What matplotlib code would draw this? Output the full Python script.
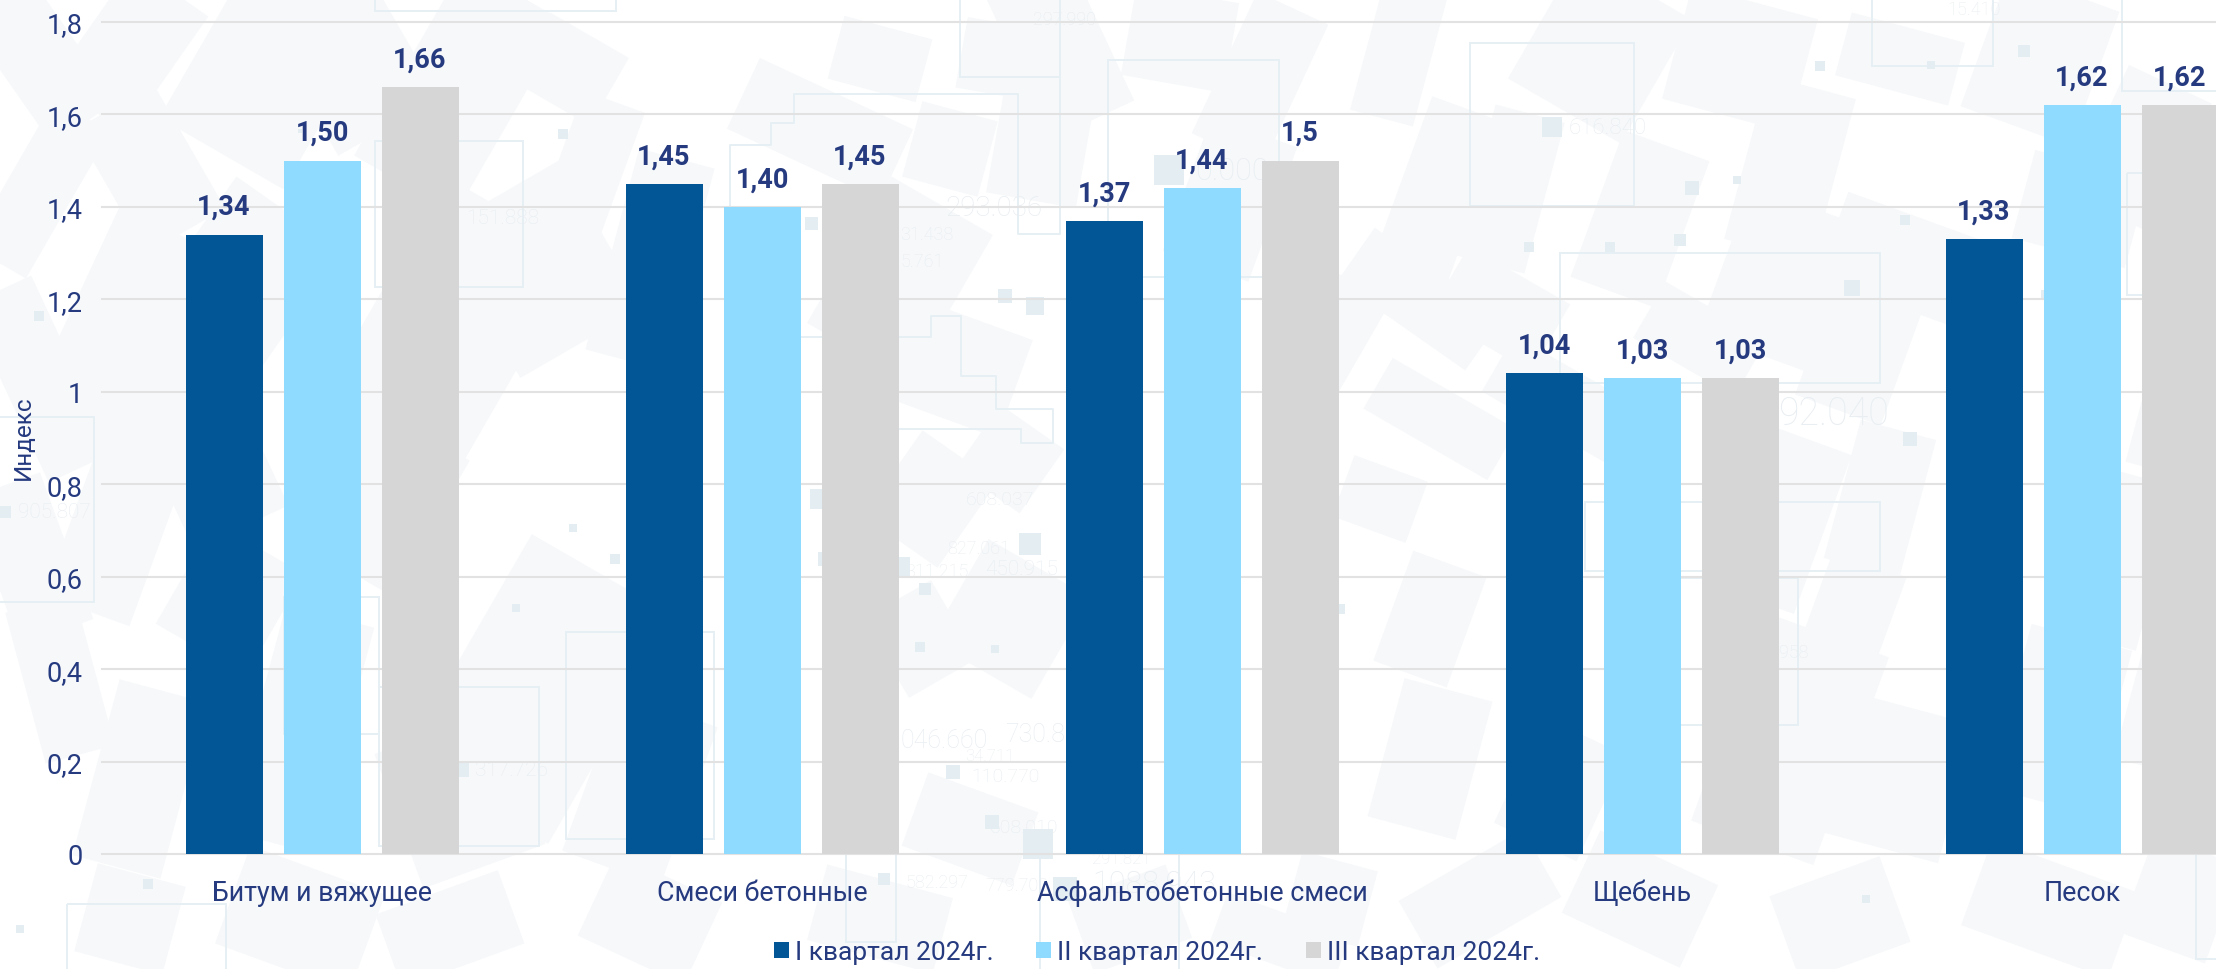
import matplotlib
matplotlib.use("Agg")
import matplotlib.pyplot as plt
from matplotlib.patches import Polygon, Rectangle, Patch
import numpy as np

categories = ["Битум и вяжущее", "Смеси бетонные", "Асфальтобетонные смеси", "Щебень", "Песок"]
series_names = ["I квартал 2024г.", "II квартал 2024г.", "III квартал 2024г."]
q1 = [1.34, 1.45, 1.37, 1.04, 1.33]
q2 = [1.50, 1.40, 1.44, 1.03, 1.62]
q3 = [1.66, 1.45, 1.50, 1.03, 1.62]
q1_labels = ["1,34", "1,45", "1,37", "1,04", "1,33"]
q2_labels = ["1,50", "1,40", "1,44", "1,03", "1,62"]
q3_labels = ["1,66", "1,45", "1,5", "1,03", "1,62"]
y_ticks = [0, 0.2, 0.4, 0.6, 0.8, 1.0, 1.2, 1.4, 1.6, 1.8]
y_tick_labels = ["0", "0,2", "0,4", "0,6", "0,8", "1", "1,2", "1,4", "1,6", "1,8"]
colors = ["#025696", "#8fdbff", "#d6d6d6"]
NAVY = "#253a7f"
FONT = "Roboto"

# decorative city-map backdrop, in image pixels: cx, cy, w, h, angle
map_blocks = [
    (40, 60, 60, 120, -35), (130, 50, 70, 110, 35), (40, 190, 50, 130, 30), (150, 170, 70, 110, -30),
    (270, 70, 110, 150, 30), (120, 330, 80, 170, 25), (40, 380, 55, 150, -25), (230, 300, 100, 160, 35),
    (350, 60, 90, 120, -30), (460, 90, 90, 170, 30), (540, 270, 110, 130, -30), (450, 330, 120, 200, 30),
    (590, 170, 50, 110, 20), (650, 260, 60, 160, 15), (570, 70, 70, 60, 30), (200, 440, 80, 150, -25),
    (120, 520, 70, 150, 20), (30, 560, 60, 120, -20), (380, 500, 90, 120, 30), (230, 600, 80, 90, 30),
    (540, 690, 130, 200, 30), (460, 800, 100, 110, -20), (640, 790, 80, 130, 20), (140, 780, 70, 140, 15),
    (60, 680, 55, 120, -15), (300, 730, 70, 180, 15), (820, 130, 130, 60, 25), (880, 60, 70, 50, 15),
    (1000, 60, 60, 55, 10), (1040, 150, 70, 80, 10), (950, 150, 60, 60, 15), (900, 280, 90, 130, 30),
    (960, 370, 90, 80, 20), (1010, 460, 60, 60, 35), (930, 500, 70, 80, 35), (1010, 620, 90, 90, 30),
    (920, 640, 60, 70, -30), (970, 830, 90, 60, 20), (880, 920, 100, 60, 15), (1130, 920, 80, 60, -20),
    (1060, 50, 70, 120, -25), (1180, 40, 80, 70, 10), (1260, 80, 60, 120, 25), (1230, 200, 70, 110, 20),
    (1400, 50, 50, 110, 15), (1440, 190, 60, 130, 20), (1510, 190, 55, 120, 15), (1600, 50, 100, 110, 30),
    (1740, 60, 100, 90, 15), (1790, 170, 70, 130, 15), (1900, 60, 90, 50, 15), (2040, 60, 90, 110, 20),
    (2140, 150, 70, 110, 25), (2080, 210, 90, 70, 15), (1640, 220, 70, 120, 20), (1780, 280, 90, 120, 20),
    (1900, 260, 110, 70, 20), (1420, 300, 120, 50, 35), (1500, 310, 90, 60, 30), (1330, 330, 60, 80, 30),
    (1440, 420, 110, 45, 30), (1380, 500, 60, 50, 20), (1560, 400, 110, 50, 30), (1700, 340, 90, 50, 30),
    (1860, 350, 70, 100, 20), (1880, 500, 60, 110, 15), (1430, 620, 60, 90, 20), (1780, 520, 70, 130, 20),
    (1850, 620, 60, 90, 20), (1430, 760, 70, 110, 15), (1790, 740, 100, 170, 20), (1560, 790, 70, 90, 25),
    (1900, 780, 90, 110, 15), (2060, 720, 80, 130, 15), (2120, 560, 60, 130, 15), (2180, 410, 60, 100, 15),
    (2170, 700, 60, 110, 15), (1330, 900, 60, 60, 15), (1480, 900, 110, 60, -30), (1640, 900, 100, 70, 25),
    (1840, 920, 90, 70, -20), (2050, 910, 120, 70, 20), (2180, 900, 70, 80, 20), (1280, 940, 100, 40, 20),
    (300, 920, 110, 80, 20), (450, 930, 100, 60, -20), (650, 920, 90, 70, 25), (130, 920, 70, 70, 15),
]
BLOCK_SCALE = 1.3
map_frames = [
    (375, 142, 148, 146), (375, -10, 241, 22), (1470, 44, 164, 163), (1872, -5, 121, 72), (1560, 254, 320, 130),
    (2122, -5, 110, 97), (2127, 174, 100, 122), (1108, 61, 171, 217), (960, -5, 100, 83), (-5, 418, 99, 185),
    (284, 598, 95, 137), (379, 688, 160, 159), (566, 633, 148, 207), (846, 855, 50, 88), (67, 905, 159, 80),
    (1585, 503, 295, 69), (1680, 579, 118, 147), (2196, 855, 30, 105), (1040, 855, 139, 130),
]
map_paths = [
    [(730, 207), (730, 146), (771, 146), (771, 124), (794, 124), (794, 95), (1018, 95), (1018, 235), (1060, 235), (1060, 78)],
    [(802, 338), (931, 338), (931, 317), (961, 317), (961, 377), (996, 377), (996, 410), (1053, 410), (1053, 444), (1021, 444), (1021, 430), (898, 430)],
]
map_dots = [
    (300, 132, 4), (563, 135, 10), (39, 317, 10), (1005, 297, 14), (1035, 307, 18), (811, 224, 13), (5, 513, 12),
    (1169, 171, 30), (1552, 128, 20), (1820, 67, 10), (1931, 66, 8), (2024, 52, 12), (1692, 189, 14), (1737, 181, 8),
    (1610, 248, 10), (1680, 241, 12), (1529, 248, 10), (1852, 289, 16), (1905, 221, 10), (2045, 295, 8), (1910, 440, 14),
    (573, 529, 8), (516, 609, 8), (462, 771, 14), (615, 560, 10), (820, 500, 20), (825, 560, 14), (900, 568, 20),
    (1030, 545, 22), (925, 590, 12), (953, 773, 14), (992, 823, 14), (1038, 845, 30), (1065, 890, 24), (884, 880, 12),
    (20, 930, 8), (148, 885, 10), (1866, 900, 8), (1340, 610, 10), (920, 648, 10), (995, 650, 8),
]
map_labels = [
    ("151.888", 466, 218, 15), ("293.036", 945, 208, 20), ("297.990", 1033, 20, 13), ("616.840", 1569, 128, 16),
    ("15.410", 1947, 10, 13), ("92.040", 1778, 414, 27), ("905.807", 18, 513, 15), ("317.726", 475, 771, 15),
    ("608.037", 966, 500, 14), ("046.660", 900, 741, 18), ("730.8", 1005, 735, 18), ("110.770", 971, 777, 14),
    ("34.711", 965, 757, 12), ("608.010", 990, 828, 14), ("582.297", 905, 883, 13), ("779.700", 985, 886, 13),
    ("1088.943", 1092, 885, 22), ("291.821", 1092, 860, 12), ("31.438", 900, 235, 13), ("5.761", 900, 262, 13),
    ("827.061", 947, 549, 13), ("311.215", 905, 572, 13), ("450.915", 985, 570, 15), (".958", 1776, 653, 13),
    ("0.000", 1195, 172, 22),
]

W, H = 2216, 970
fig = plt.figure(figsize=(W / 100, H / 100), dpi=100, facecolor="white")

bg = fig.add_axes([0, 0, 1, 1], zorder=0)
bg.set_xlim(0, W)
bg.set_ylim(H, 0)
bg.axis("off")
for cx, cy, w, h, ang in map_blocks:
    t = np.radians(ang)
    c, s = np.cos(t), np.sin(t)
    w2, h2 = w * BLOCK_SCALE / 2, h * BLOCK_SCALE / 2
    pts = [(cx + dx * c - dy * s, cy + dx * s + dy * c)
           for dx, dy in [(-w2, -h2), (w2, -h2), (w2, h2), (-w2, h2)]]
    bg.add_patch(Polygon(pts, closed=True, fc="#f6f8fa", ec="none"))
for x, y, w, h in map_frames:
    bg.add_patch(Rectangle((x, y), w, h, fc="none", ec="#e6eff4", lw=1.4))
for path in map_paths:
    xs, ys = zip(*path)
    bg.plot(xs, ys, color="#e6eff4", lw=1.4)
for x, y, s in map_dots:
    bg.add_patch(Rectangle((x - s / 2, y - s / 2), s, s, fc="#e3edf2", ec="none"))
for txt, x, y, size in map_labels:
    bg.text(x, y, txt, fontsize=size, color="#e9eef2", va="center", ha="left", family=FONT, fontweight="light")

ax = fig.add_axes([102 / W, (H - 855) / H, (W - 102) / W, (855 - 23) / H], zorder=1)
ax.patch.set_alpha(0)
ax.set_xlim(-0.5, (W - 322) / 440)
ax.set_ylim(0, 1.8)

x = np.arange(len(categories))
step = 98 / 440
width = 77 / 440
data = [q1, q2, q3]
labels = [q1_labels, q2_labels, q3_labels]
for j, (vals, labs) in enumerate(zip(data, labels)):
    pos = x + (j - 1) * step
    ax.bar(pos, vals, width=width, color=colors[j], zorder=3, label=series_names[j])
    for p, v, lab in zip(pos, vals, labs):
        ax.annotate(lab, (p, v), xytext=(0, 28 * 0.72), textcoords="offset points",
                    ha="center", va="center", fontsize=19.5, fontweight="bold",
                    color=NAVY, family=FONT, zorder=4)

ax.set_yticks(y_ticks)
ax.set_yticklabels(y_tick_labels, fontsize=19.5, color=NAVY, family=FONT)
ax.set_xticks(x)
ax.set_xticklabels(categories, fontsize=19.3, color=NAVY, family=FONT)
ax.tick_params(axis="both", length=0)
ax.tick_params(axis="x", pad=18)
ax.tick_params(axis="y", pad=14)
ax.grid(axis="y", color="#e2e2e2", lw=1.5, zorder=1)
ax.set_axisbelow(True)
for gl in ax.get_ygridlines():
    gl.set_clip_on(False)
for name, sp in ax.spines.items():
    sp.set_visible(False)

ax.set_ylabel("Индекс", fontsize=17.5, color=NAVY, family=FONT)
ax.yaxis.set_label_coords(35 / W, (H - 438) / H, transform=fig.transFigure)

handles = [Patch(fc=c, ec="none") for c in colors]
leg = fig.legend(handles, series_names, loc="center", bbox_to_anchor=(1157 / W, (H - 953) / H),
                 ncols=3, frameon=False, labelcolor=NAVY,
                 prop={"family": FONT, "size": 19},
                 handlelength=0.57, handleheight=0.57, handletextpad=0.23, columnspacing=1.63,
                 borderpad=0, borderaxespad=0)

fig.savefig("out.png", dpi=100)
